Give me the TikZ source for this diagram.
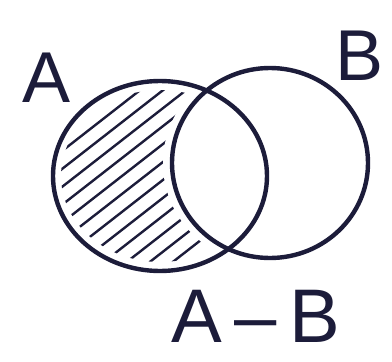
\documentclass[tikz,border=0pt]{standalone}
\usepackage{fontspec}
\setmainfont{Liberation Sans}
\definecolor{ink}{RGB}{28,28,58}
\begin{document}
\begin{tikzpicture}[x=1pt,y=-1pt,
  outline/.style={draw=ink,line width=4.4pt},
  hatch/.style={draw=ink,line width=2.4pt,line cap=round},
  lbl/.style={text=ink,inner sep=0pt}]
\useasboundingbox[fill=white] (0,0) rectangle (392,362);
% hatching of A - B
\begin{scope}
  \clip (160,176) ellipse [x radius=99, y radius=86];
  \foreach \c in {30,53,...,300}
    \draw[hatch] (\c-150,176+117) -- (\c+150,176-117);
\end{scope}
\fill[white] (270,163) ellipse [x radius=107, y radius=103];
% circles
\draw[outline] (160,176) ellipse [x radius=107, y radius=95];
\draw[outline] (270,163) ellipse [x radius=98, y radius=95];
% labels
\node[lbl,font=\fontsize{72}{72}\selectfont] (la) at (47,78) {A};
\node[lbl,font=\fontsize{72}{72}\selectfont] (lb) at (360,56) {B};
\node[lbl,font=\fontsize{76}{76}\selectfont] (lab) at (256,316) {A\,–\,B};
\end{tikzpicture}
\end{document}
